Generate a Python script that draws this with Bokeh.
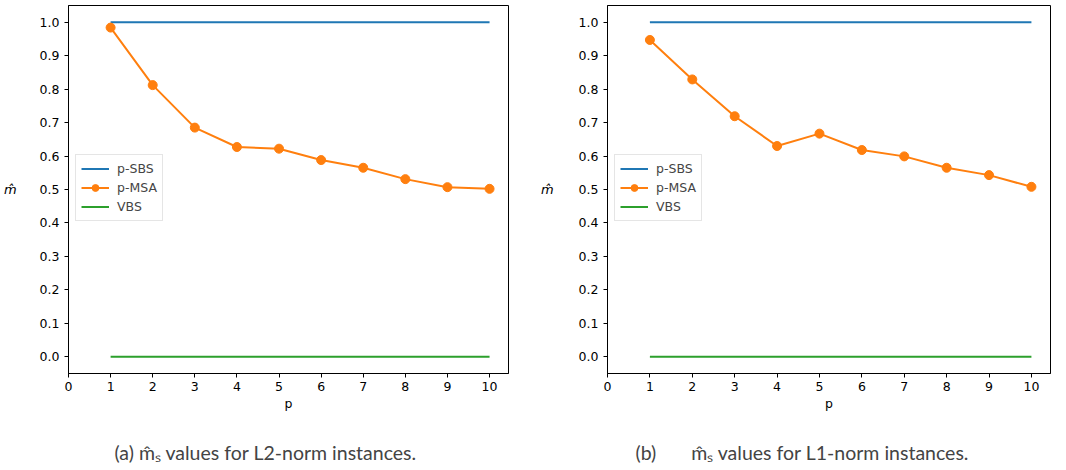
from bokeh.plotting import figure
from bokeh.layouts import row
from bokeh.models import FixedTicker, PrintfTickFormatter, Range1d, Legend, LegendItem, Title
from bokeh.embed import file_html
from bokeh.resources import INLINE

p_values = [1, 2, 3, 4, 5, 6, 7, 8, 9, 10]
sbs_l2 = [1.0] * 10
msa_l2 = [0.984, 0.812, 0.685, 0.627, 0.622, 0.588, 0.565, 0.531, 0.507, 0.502]
vbs_l2 = [0.0] * 10
sbs_l1 = [1.0] * 10
msa_l1 = [0.947, 0.829, 0.719, 0.630, 0.667, 0.618, 0.599, 0.565, 0.543, 0.508]
vbs_l1 = [0.0] * 10
x_ticks = [0, 1, 2, 3, 4, 5, 6, 7, 8, 9, 10]
y_ticks = [0.0, 0.1, 0.2, 0.3, 0.4, 0.5, 0.6, 0.7, 0.8, 0.9, 1.0]
captions = ["(a) m\u0302\u209b values for L2-norm instances.",
            "(b)" + "\u00a0" * 7 + "m\u0302\u209b values for L1-norm instances."]

BLUE, ORANGE, GREEN = "#1f77b4", "#ff7f0e", "#2ca02c"
TICK_FONT = "DejaVu Sans"
FS = "12.5px"


def make(sbs, msa, vbs, caption, bl, br, cap_off, ylab_standoff):
    p = figure(width=533, height=470, output_backend="svg", toolbar_location=None,
               x_range=Range1d(0, 10.45), y_range=Range1d(-0.05, 1.05),
               min_border_left=bl, min_border_right=br, min_border_top=5, min_border_bottom=0)
    p.frame_height = 368
    p.frame_width = 533 - bl - br
    p.grid.visible = False
    p.outline_line_color = "black"
    p.outline_line_width = 1
    p.background_fill_color = "white"
    p.border_fill_color = "white"

    for ax in (p.xaxis[0], p.yaxis[0]):
        ax.major_label_text_font = TICK_FONT
        ax.major_label_text_font_size = FS
        ax.major_label_text_color = "black"
        ax.axis_line_color = "black"
        ax.major_tick_line_color = "black"
        ax.major_tick_out = 4
        ax.major_tick_in = 0
        ax.minor_tick_out = 0
        ax.minor_tick_in = 0
        ax.axis_label_text_font = TICK_FONT
        ax.axis_label_text_font_size = FS
        ax.axis_label_text_font_style = "normal"
        ax.axis_label_text_color = "black"

    p.xaxis.ticker = FixedTicker(ticks=x_ticks)
    p.yaxis.ticker = FixedTicker(ticks=y_ticks)
    p.yaxis.formatter = PrintfTickFormatter(format="%.1f")
    p.xaxis.major_label_standoff = 4
    p.yaxis.major_label_standoff = 5
    p.xaxis.axis_label = "p"
    p.xaxis.axis_label_standoff = 2
    p.yaxis.axis_label = "m\u0302"
    p.yaxis.axis_label_orientation = "horizontal"
    p.yaxis.axis_label_text_font_style = "italic"
    p.yaxis.axis_label_text_font_size = "13px"
    p.yaxis.axis_label_standoff = ylab_standoff

    r_sbs = p.line(p_values, sbs, line_color=BLUE, line_width=2)
    r_msa = p.line(p_values, msa, line_color=ORANGE, line_width=2)
    r_msa_pts = p.scatter(p_values, msa, marker="circle", size=9,
                          fill_color=ORANGE, line_color=ORANGE)
    r_vbs = p.line(p_values, vbs, line_color=GREEN, line_width=2)

    legend = Legend(items=[
        LegendItem(label="p-SBS", renderers=[r_sbs]),
        LegendItem(label="p-MSA", renderers=[r_msa, r_msa_pts]),
        LegendItem(label="VBS", renderers=[r_vbs]),
    ], location=(7, 152))
    legend.label_text_font = TICK_FONT
    legend.label_text_font_size = FS
    legend.label_standoff = 8
    legend.glyph_width = 28
    legend.glyph_height = 17
    legend.label_height = 17
    legend.spacing = 2
    legend.padding = 5
    legend.margin = 0
    legend.border_line_color = "#cccccc"
    legend.border_line_width = 1
    legend.background_fill_alpha = 0.8
    p.add_layout(legend, "center")

    t = Title(text=caption, text_font="Lato", text_font_size="19.5px",
              text_font_style="normal", align="left", offset=cap_off, standoff=50)
    p.add_layout(t, "below")
    return p


p1 = make(sbs_l2, msa_l2, vbs_l2, captions[0], 68, 25, 46, 20)
p2 = make(sbs_l1, msa_l1, vbs_l1, captions[1], 74, 16, 28, 22)
layout = row(p1, p2)
open("out.html", "w").write(file_html(layout, INLINE))
